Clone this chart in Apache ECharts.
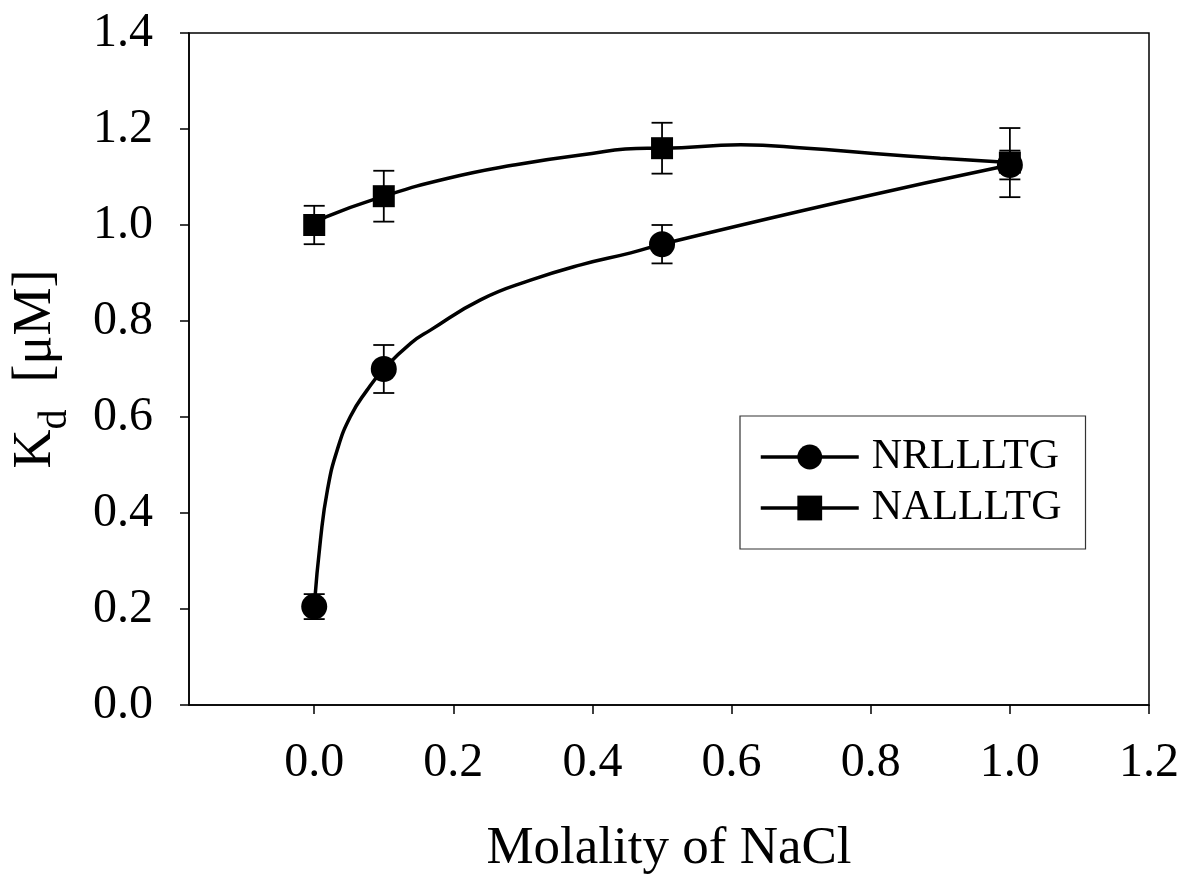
<!DOCTYPE html>
<html>
<head>
<meta charset="utf-8">
<script src="https://cdn.jsdelivr.net/npm/echarts@6/dist/echarts.min.js"></script>
<style>
  html, body { margin: 0; padding: 0; background: #fff; }
  #chart { width: 1185px; height: 878px; }
</style>
</head>
<body>
<div id="chart"></div>
<script>
// ---- Data ----
const xNaCl = [0, 0.1, 0.5, 1.0];
const kdNR = [0.205, 0.70, 0.96, 1.125];
const errNR = [0.026, 0.05, 0.04, 0.03];
const kdNA = [1.00, 1.06, 1.16, 1.13];
const errNA = [0.04, 0.053, 0.053, 0.072];

const fitNRx = [0.009, 0.019, 0.033, 0.052, 0.076, 0.139, 0.167, 0.239, 0.311, 0.383, 0.455, 0.756];
const fitNRy = [0.344, 0.448, 0.531, 0.601, 0.656, 0.754, 0.781, 0.844, 0.885, 0.917, 0.942, 1.048];
const fitNAx = [0.017, 0.191, 0.287, 0.383, 0.479, 0.613, 0.708, 0.804, 0.900];
const fitNAy = [1.017, 1.097, 1.125, 1.146, 1.160, 1.167, 1.160, 1.149, 1.139];

const xTicks = [0, 0.2, 0.4, 0.6, 0.8, 1.0, 1.2];
const seriesNames = ['NRLLLTG', 'NALLLTG'];

const FONT = '"Liberation Serif", "Times New Roman", serif';

function buildLine(mx, my, fx, fy) {
  const pts = [];
  mx.forEach((x, i) => pts.push({ value: [x, my[i]], m: true }));
  fx.forEach((x, i) => pts.push({ value: [x, fy[i]], m: false }));
  pts.sort((a, b) => a.value[0] - b.value[0]);
  return pts.map(p => p.m ? { value: p.value } : { value: p.value, symbol: 'none' });
}
function buildErr(mx, my, me) {
  return mx.map((x, i) => [x, my[i] - me[i], my[i] + me[i]]);
}

function errRender(params, api) {
  const x = api.value(0);
  const lo = api.coord([x, api.value(1)]);
  const hi = api.coord([x, api.value(2)]);
  const hw = 10.5;
  const style = { stroke: '#000', lineWidth: 1.8, fill: null };
  return {
    type: 'group',
    children: [
      { type: 'line', shape: { x1: lo[0], y1: lo[1], x2: hi[0], y2: hi[1] }, style: style },
      { type: 'line', shape: { x1: lo[0] - hw, y1: lo[1], x2: lo[0] + hw, y2: lo[1] }, style: style },
      { type: 'line', shape: { x1: hi[0] - hw, y1: hi[1], x2: hi[0] + hw, y2: hi[1] }, style: style }
    ]
  };
}

const chart = echarts.init(document.getElementById('chart'), null, { renderer: 'canvas' });
chart.setOption({
  animation: false,
  backgroundColor: '#fff',
  grid: {
    left: 189, right: 36, top: 33, bottom: 173,
    containLabel: false, outerBoundsMode: 'none',
    show: true, borderColor: '#000', borderWidth: 1.5, backgroundColor: 'transparent'
  },
  legend: {
    data: seriesNames,
    orient: 'vertical',
    left: 740, top: 416,
    padding: [20, 24, 20, 19],
    itemWidth: 98, itemHeight: 31,
    itemGap: 9,
    borderColor: '#333', borderWidth: 1.2,
    backgroundColor: '#fff',
    lineStyle: { width: 3.5, color: '#000' },
    textStyle: { fontFamily: FONT, fontSize: 42, color: '#000', padding: [0, 0, 0, 8] },
    inactiveColor: '#000'
  },
  xAxis: {
    type: 'value',
    min: -0.18, max: 1.2,
    name: 'Molality of NaCl',
    nameLocation: 'middle',
    nameGap: 118,
    nameTextStyle: { fontFamily: FONT, fontSize: 53, color: '#000' },
    axisLine: { show: true, onZero: false, lineStyle: { color: '#000', width: 1.5 } },
    axisTick: { show: true, inside: false, length: 9, customValues: xTicks, lineStyle: { color: '#000', width: 1.5 } },
    axisLabel: {
      customValues: xTicks, margin: 34,
      fontFamily: FONT, fontSize: 48, color: '#000',
      formatter: v => v.toFixed(1)
    },
    splitLine: { show: false }
  },
  yAxis: {
    type: 'value',
    min: 0, max: 1.4, interval: 0.2,
    name: '{k|K}{d|d}{t|  [μM]}',
    nameLocation: 'middle',
    nameRotate: 90,
    nameGap: 114,
    nameTextStyle: {
      fontFamily: FONT, fontSize: 54, color: '#000',
      rich: {
        k: { fontFamily: FONT, fontSize: 54, color: '#000', lineHeight: 66, verticalAlign: 'top' },
        d: { fontFamily: FONT, fontSize: 40, color: '#000', lineHeight: 66, verticalAlign: 'top', padding: [26, 0, 0, 0] },
        t: { fontFamily: FONT, fontSize: 54, color: '#000', lineHeight: 66, verticalAlign: 'top' }
      }
    },
    axisLine: { show: true, onZero: false, lineStyle: { color: '#000', width: 1.5 } },
    axisTick: { show: true, inside: false, length: 9, lineStyle: { color: '#000', width: 1.5 } },
    axisLabel: {
      margin: 36, fontFamily: FONT, fontSize: 48, color: '#000',
      formatter: v => v.toFixed(1)
    },
    splitLine: { show: false }
  },
  series: [
    {
      name: 'errNR', type: 'custom', renderItem: errRender,
      data: buildErr(xNaCl, kdNR, errNR), z: 2, silent: true,
      encode: { x: 0, y: [1, 2] }
    },
    {
      name: 'errNA', type: 'custom', renderItem: errRender,
      data: buildErr(xNaCl, kdNA, errNA), z: 2, silent: true,
      encode: { x: 0, y: [1, 2] }
    },
    {
      name: seriesNames[0], type: 'line',
      data: buildLine(xNaCl, kdNR, fitNRx, fitNRy),
      smooth: 0.5,
      symbol: 'circle', symbolSize: 26, showSymbol: true,
      lineStyle: { color: '#000', width: 3.5 },
      itemStyle: { color: '#000', borderWidth: 0 },
      z: 3
    },
    {
      name: seriesNames[1], type: 'line',
      data: buildLine(xNaCl, kdNA, fitNAx, fitNAy),
      smooth: 0.5,
      symbol: 'rect', symbolSize: 22, showSymbol: true,
      lineStyle: { color: '#000', width: 3.5 },
      itemStyle: { color: '#000', borderWidth: 0 },
      z: 3
    }
  ]
});
</script>
</body>
</html>
